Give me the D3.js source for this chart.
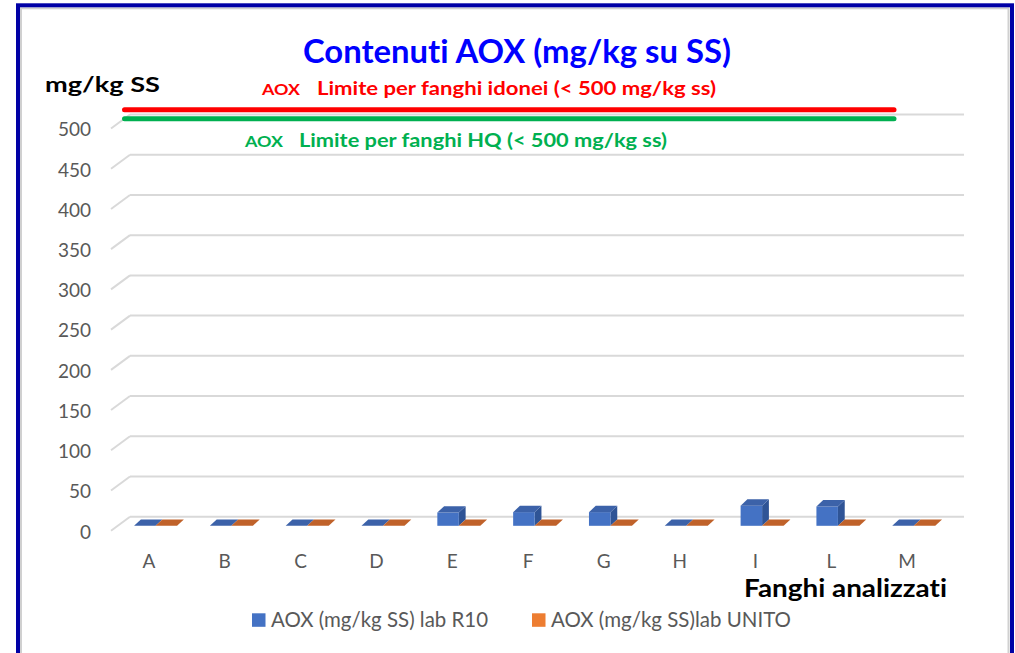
<!DOCTYPE html>
<html>
<head>
<meta charset="utf-8">
<script src="https://cdn.jsdelivr.net/npm/d3@7"></script>
<style>
  html, body { margin: 0; padding: 0; background: #ffffff; }
  svg { display: block; }
  text { font-variant-ligatures: none; font-feature-settings: "liga" 0, "clig" 0; }
</style>
</head>
<body>
<svg id="chart" width="1015" height="653"></svg>
<script>
// ---------- data ----------
const categories = ["A", "B", "C", "D", "E", "F", "G", "H", "I", "L", "M"];
const seriesNames = ["AOX (mg/kg SS) lab R10", "AOX (mg/kg SS)lab UNITO"];
const valuesR10 = [0, 0, 0, 0, 16.5, 17, 17, 0, 25, 24, 0];
const valuesUNITO = [0, 0, 0, 0, 0, 0, 0, 0, 0, 0, 0];
const yTicks = [0, 50, 100, 150, 200, 250, 300, 350, 400, 450, 500];
const limitValues = [500, 500];
const limitPrefix = ["AOX", "AOX"];
const limitLabels = ["Limite per fanghi idonei (< 500 mg/kg ss)", "Limite per fanghi HQ (< 500 mg/kg ss)"];
const titleText = "Contenuti AOX (mg/kg su SS)";
const yAxisTitle = "mg/kg SS";
const xAxisTitle = "Fanghi analizzati";

// ---------- styles ----------
const seriesFront = ["#4472c4", "#ed7d31"];
const seriesTop = ["#3c62a9", "#c0622a"];
const seriesSide = ["#2f5496", "#a9521d"];
const limitColors = ["#ff0000", "#00b050"];
const gray = "#595959";
const FONT = "Lato, 'Open Sans', 'Liberation Sans', sans-serif";

const svg = d3.select("#chart");

// chart frame
svg.append("rect").attr("x", 21).attr("y", 8.3).attr("width", 987.5).attr("height", 700)
  .attr("fill", "none").attr("stroke", "#d0d0d0").attr("stroke-width", 2);
svg.append("rect").attr("x", 18).attr("y", 5.3).attr("width", 994).attr("height", 720)
  .attr("fill", "none").attr("stroke", "#0000a6").attr("stroke-width", 4);

// ---------- 3D geometry ----------
const DX = 19, DY = -14;            // floor depth offset (front -> back wall)
const backLeft = 130, backRight = 964;
const yBack = d3.scaleLinear().domain([0, 500]).range([516.7, 114.5]);
const x = d3.scaleBand().domain(categories).range([backLeft - DX, backRight - DX]);
const yFront = v => yBack(v) - DY;

// gridlines on back wall + diagonal on left wall edge
const grid = svg.append("g");
yTicks.forEach(t => {
  grid.append("line")
    .attr("x1", backLeft).attr("x2", backRight)
    .attr("y1", yBack(t)).attr("y2", yBack(t))
    .attr("stroke", "#d9d9d9").attr("stroke-width", 2);
  grid.append("line")
    .attr("x1", backLeft - DX).attr("y1", yFront(t))
    .attr("x2", backLeft).attr("y2", yBack(t))
    .attr("stroke", "#d9d9d9").attr("stroke-width", 2);
});

// y tick labels
svg.append("g").selectAll("text").data(yTicks).join("text")
  .attr("x", 91).attr("y", d => yFront(d) + 1)
  .attr("dy", "0.36em")
  .attr("text-anchor", "end")
  .attr("font-family", FONT).attr("font-size", 19).attr("fill", gray)
  .text(d => d);

// category labels
svg.append("g").selectAll("text").data(categories).join("text")
  .attr("x", d => x(d) + x.bandwidth() / 2)
  .attr("y", yFront(0) + 37)
  .attr("text-anchor", "middle")
  .attr("font-family", FONT).attr("font-size", 19).attr("fill", gray)
  .text(d => d);

// ---------- bars ----------
const D0 = 0.35;                    // bar front depth fraction
const BDX = 6.8, BDY = -6.4;        // bar depth offset
const clusterW = 43;
const inner = d3.scaleBand().domain(d3.range(seriesNames.length)).range([-clusterW / 2, clusterW / 2]);
const seriesValues = [valuesR10, valuesUNITO];

const barsG = svg.append("g");
categories.forEach((c, i) => {
  seriesValues.forEach((vals, s) => {
    const v = vals[i];
    const cx = x(c) + x.bandwidth() / 2 + DX * D0;
    const x0 = cx + inner(s);
    const w = inner.bandwidth();
    const yb = yFront(0) + DY * D0;
    const h = yBack(0) - yBack(v);
    const yt = yb - h;
    const g = barsG.append("g");
    if (h > 0.5) {
      g.append("polygon")
        .attr("points", [[x0 + w, yt], [x0 + w + BDX, yt + BDY], [x0 + w + BDX, yb + BDY], [x0 + w, yb]].join(" "))
        .attr("fill", seriesSide[s]);
      g.append("rect").attr("x", x0).attr("y", yt).attr("width", w).attr("height", h)
        .attr("fill", seriesFront[s]);
    }
    g.append("polygon")
      .attr("points", [[x0, yt], [x0 + w, yt], [x0 + w + BDX, yt + BDY], [x0 + BDX, yt + BDY]].join(" "))
      .attr("fill", seriesTop[s]);
  });
});

// ---------- limit lines & labels ----------
const limitOffsets = [-4.8, 4.2];
const limitTextY = [95, 147];
const limitPrefixX = [262, 245];
const limitPrefixW = [38, 38];
const limitLabelX = [317, 299];
const limitLabelW = [399, 368];
limitValues.forEach((v, k) => {
  svg.append("line")
    .attr("x1", backLeft - 5.5).attr("x2", backRight - 70)
    .attr("y1", yBack(v) + limitOffsets[k]).attr("y2", yBack(v) + limitOffsets[k])
    .attr("stroke", limitColors[k]).attr("stroke-width", 5).attr("stroke-linecap", "round");
  svg.append("text")
    .attr("x", limitPrefixX[k]).attr("y", limitTextY[k])
    .attr("font-family", FONT).attr("font-weight", "bold").attr("font-size", 16)
    .attr("fill", limitColors[k])
    .attr("textLength", limitPrefixW[k]).attr("lengthAdjust", "spacingAndGlyphs")
    .text(limitPrefix[k]);
  svg.append("text")
    .attr("x", limitLabelX[k]).attr("y", limitTextY[k])
    .attr("font-family", FONT).attr("font-weight", "bold").attr("font-size", 18.5)
    .attr("fill", limitColors[k])
    .attr("textLength", limitLabelW[k]).attr("lengthAdjust", "spacingAndGlyphs")
    .text(limitLabels[k]);
});

// ---------- titles ----------
svg.append("text")
  .attr("x", 303).attr("y", 63)
  .attr("font-family", FONT).attr("font-weight", "bold").attr("font-size", 32)
  .attr("fill", "#0000ff")
  .attr("textLength", 428).attr("lengthAdjust", "spacingAndGlyphs")
  .text(titleText);

svg.append("text")
  .attr("x", 45).attr("y", 92)
  .attr("font-family", FONT).attr("font-weight", "bold").attr("font-size", 21)
  .attr("fill", "#000000")
  .attr("textLength", 115).attr("lengthAdjust", "spacingAndGlyphs")
  .text(yAxisTitle);

svg.append("text")
  .attr("x", 744).attr("y", 597)
  .attr("font-family", FONT).attr("font-weight", "bold").attr("font-size", 25)
  .attr("fill", "#000000")
  .attr("textLength", 203).attr("lengthAdjust", "spacingAndGlyphs")
  .text(xAxisTitle);

// ---------- legend ----------
const legendX = [252, 532];
const legendW = [217, 240];
const legend = svg.append("g");
seriesNames.forEach((n, s) => {
  legend.append("rect").attr("x", legendX[s]).attr("y", 613.3).attr("width", 13.5).attr("height", 13.5)
    .attr("fill", seriesFront[s]);
  legend.append("text")
    .attr("x", legendX[s] + 19).attr("y", 626.7)
    .attr("font-family", FONT).attr("font-size", 20.5).attr("fill", gray)
    .attr("textLength", legendW[s]).attr("lengthAdjust", "spacingAndGlyphs")
    .text(n);
});
</script>
</body>
</html>
